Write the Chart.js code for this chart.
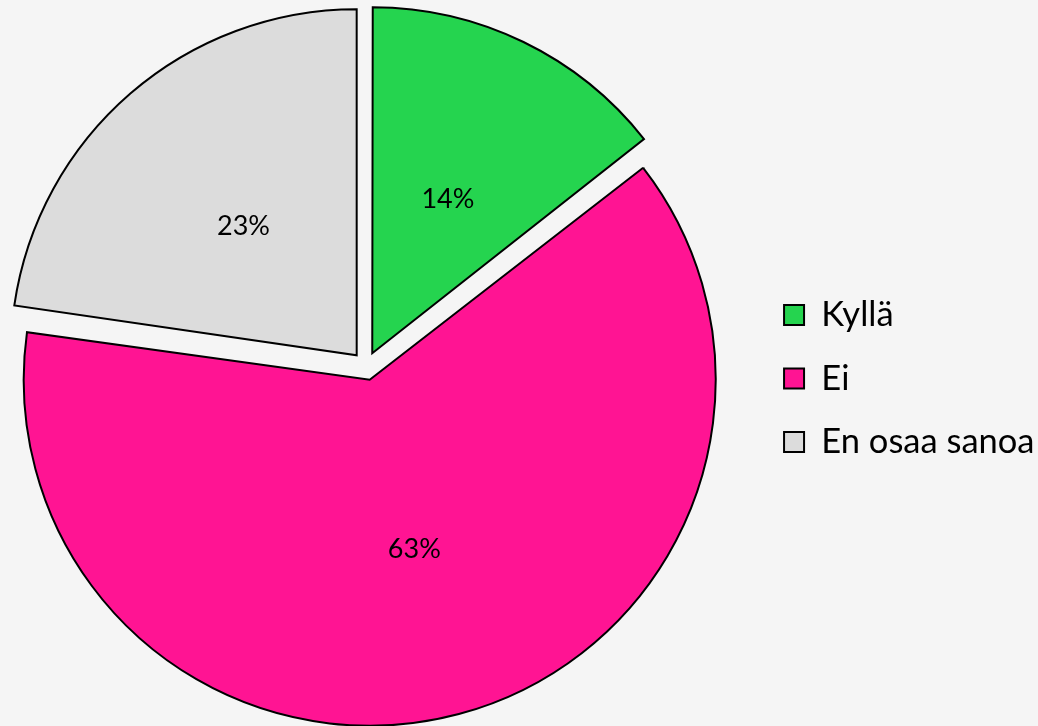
<!DOCTYPE html>
<html lang="fi">
<head>
<meta charset="utf-8">
<title>Kyllä / Ei / En osaa sanoa</title>
<script src="https://cdn.jsdelivr.net/npm/chart.js@4.4.1/dist/chart.umd.min.js"></script>
<style>
    html, body { margin: 0; padding: 0; background: #f5f5f5; }
    #wrap { width: 1038px; height: 726px; }
</style>
</head>
<body>
<div id="wrap"><canvas id="pie" width="1038" height="726"></canvas></div>
<script>
// Vastausten jakauma (%)
const categories = ['Kyllä', 'Ei', 'En osaa sanoa'];
const shares = [14.4, 62.9, 22.7];
const sliceColors = ['#25d44f', '#ff1493', '#dcdcdc'];

// Sektorien irrotus ja säde (px)
const SLICE_OFFSET = 57;
const PIE_RADIUS = 346;
// Piirakka on vähän vasemmalla, legendan ja piirakan väli on leveämpi
const PLOT_SHIFT = 23;

const plotShift = {
    id: 'plotShift',
    afterLayout(chart) {
        const area = chart.chartArea;
        area.left -= PLOT_SHIFT;
        area.width = area.right - area.left;
    }
};

// Chart.js kasvattaa irrotettujen sektorien sädettä, korjataan se tässä
const radiusFix = {
    id: 'radiusFix',
    beforeDatasetsDraw(chart) {
        chart.getDatasetMeta(0).data.forEach(arc => {
            const fix = 1 - Math.sin(Math.min(Math.PI, arc.circumference));
            arc.outerRadius = PIE_RADIUS - (SLICE_OFFSET / 4) * fix;
        });
    }
};

// Prosenttiluvut sektoreiden sisään
const sliceLabels = {
    id: 'sliceLabels',
    afterDatasetsDraw(chart) {
        const ctx = chart.ctx;
        ctx.save();
        ctx.font = '27px Lato';
        ctx.fillStyle = '#000';
        ctx.textAlign = 'center';
        ctx.textBaseline = 'middle';
        chart.getDatasetMeta(0).data.forEach((arc, i) => {
            const {x, y, startAngle, endAngle} = arc.getProps(['x', 'y', 'startAngle', 'endAngle']);
            const mid = (startAngle + endAngle) / 2;
            const d = SLICE_OFFSET / 4 + PIE_RADIUS / 2;
            ctx.fillText(Math.round(shares[i]) + '%', x + Math.cos(mid) * d, y + Math.sin(mid) * d + 2);
        });
        ctx.restore();
    }
};

Chart.defaults.font.family = 'Lato';

new Chart(document.getElementById('pie'), {
    type: 'pie',
    data: {
        labels: categories,
        datasets: [{
            data: shares,
            backgroundColor: sliceColors,
            borderColor: '#000',
            borderWidth: 2,
            borderJoinStyle: 'miter',
            offset: SLICE_OFFSET
        }]
    },
    options: {
        responsive: false,
        animation: false,
        radius: PIE_RADIUS,
        layout: {
            padding: { left: 0, right: -6.5, top: 10, bottom: 4 }
        },
        plugins: {
            tooltip: { enabled: false },
            legend: {
                display: true,
                position: 'right',
                title: {
                    display: true,
                    text: '',
                    font: { size: 1 },
                    padding: { top: 24, bottom: 0 }
                },
                labels: {
                    boxWidth: 20,
                    boxHeight: 20,
                    padding: 29,
                    color: '#000',
                    font: { family: 'Lato', size: 34.5 }
                }
            }
        }
    },
    plugins: [plotShift, radiusFix, sliceLabels]
});
</script>
</body>
</html>
